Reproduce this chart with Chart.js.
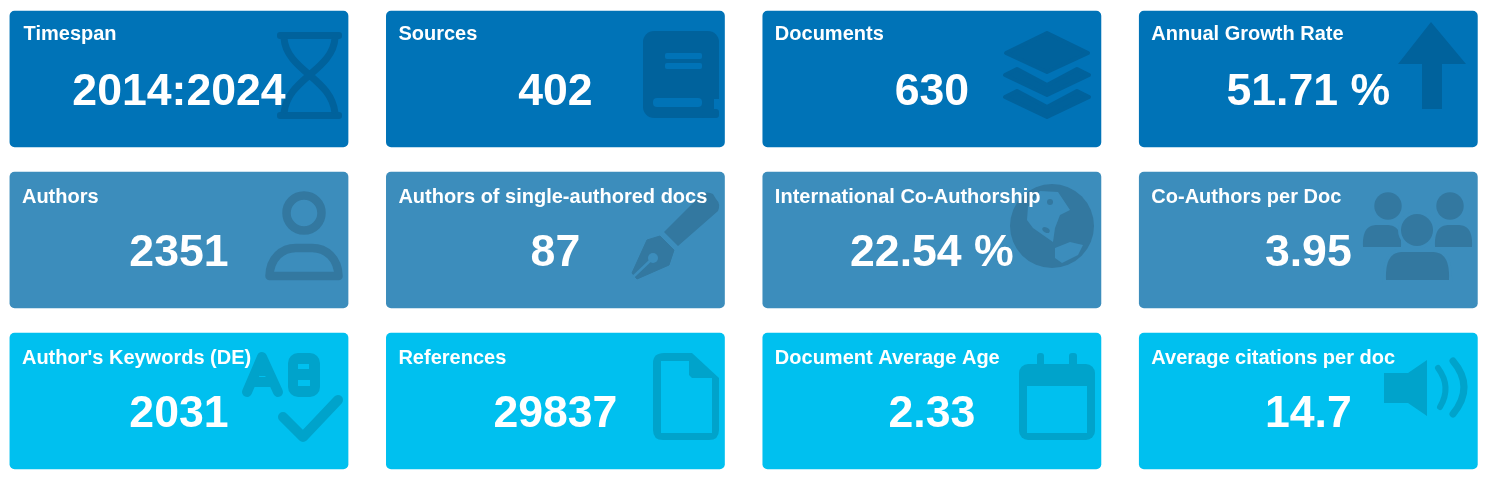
<!DOCTYPE html>
<html>
<head>
<meta charset="utf-8">
<style>html,body{margin:0;padding:0;background:#fff;overflow:hidden}canvas{display:block}</style>
<script src="https://cdn.jsdelivr.net/npm/chart.js@4"></script>
</head>
<body>
<canvas id="c" width="1486" height="482"></canvas>
<script>
const rows = [0, 1, 2];
const columns = [0, 1, 2, 3];
const titles = [
  ["Timespan", "Sources", "Documents", "Annual Growth Rate"],
  ["Authors", "Authors of single-authored docs", "International Co-Authorship", "Co-Authors per Doc"],
  ["Author's Keywords (DE)", "References", "Document Average Age", "Average citations per doc"]
];
const values = [
  ["2014:2024", "402", "630", "51.71 %"],
  ["2351", "87", "22.54 %", "3.95"],
  ["2031", "29837", "2.33", "14.7"]
];
const icons = [
  ["hourglass", "book", "layers", "arrow"],
  ["person", "pen", "globe", "people"],
  ["keywords", "file", "calendar", "speaker"]
];
const rowColors = ["#0073b7", "#3c8dbc", "#00c0ef"];
const iconColors = ["#00629c", "#3378a0", "#00a3cb"];

function poly(ctx, pts) {
  ctx.beginPath();
  pts.forEach((p, i) => i ? ctx.lineTo(p[0], p[1]) : ctx.moveTo(p[0], p[1]));
  ctx.closePath();
}
function rr(ctx, x, y, w, h, r) { ctx.beginPath(); ctx.roundRect(x, y, w, h, r); }
function dome(ctx, x0, x1, top, bottom, r) {
  ctx.beginPath();
  ctx.moveTo(x0, bottom);
  ctx.bezierCurveTo(x0 - 1, top + r * 0.2, x0 + r * 0.5, top, x0 + r, top);
  ctx.lineTo(x1 - r, top);
  ctx.bezierCurveTo(x1 - r * 0.5, top, x1 + 1, top + r * 0.2, x1, bottom);
  ctx.closePath();
}
const draw = {
  hourglass(ctx, ink) {
    rr(ctx, 267, 21, 65, 7, 3); ctx.fill();
    rr(ctx, 267, 101, 65, 7, 3); ctx.fill();
    ctx.lineWidth = 7;
    ctx.beginPath();
    ctx.moveTo(274, 27); ctx.bezierCurveTo(275, 44, 289, 55, 299.5, 64);
    ctx.bezierCurveTo(311, 74, 323, 84, 325, 102);
    ctx.moveTo(325, 27); ctx.bezierCurveTo(324, 44, 310, 55, 299.5, 64);
    ctx.bezierCurveTo(288, 74, 276, 84, 274, 102);
    ctx.stroke();
  },
  book(ctx, ink, bg) {
    rr(ctx, 257, 20, 76, 87, 11); ctx.fill();
    ctx.fillStyle = bg;
    ctx.fillRect(328, 88, 6, 20);
    rr(ctx, 267, 87, 49, 9, 4); ctx.fill();
    rr(ctx, 279, 42, 37, 6, 2); ctx.fill();
    rr(ctx, 279, 52, 37, 6, 2); ctx.fill();
    ctx.fillStyle = ink;
    rr(ctx, 316, 98, 17, 9, 3); ctx.fill();
  },
  layers(ctx) {
    ctx.lineWidth = 4; ctx.lineJoin = "round";
    poly(ctx, [[244, 42], [285, 22], [326, 42], [285, 61]]);
    ctx.fill(); ctx.stroke();
    poly(ctx, [[243, 64], [255, 58], [285, 74], [315, 58], [327, 64], [285, 84]]);
    ctx.fill(); ctx.stroke();
    poly(ctx, [[243, 86], [255, 80], [285, 96], [315, 80], [327, 86], [285, 106]]);
    ctx.fill(); ctx.stroke();
  },
  arrow(ctx) {
    poly(ctx, [[292, 11], [327, 53], [303, 53], [303, 98], [283, 98], [283, 53], [259, 53]]);
    ctx.fill();
  },
  person(ctx) {
    ctx.lineWidth = 8.5; ctx.lineJoin = "round";
    ctx.beginPath(); ctx.arc(294, 41, 17.5, 0, Math.PI * 2); ctx.stroke();
    ctx.beginPath();
    ctx.moveTo(259.5, 104);
    ctx.bezierCurveTo(260, 86, 272, 76, 286, 76);
    ctx.lineTo(302, 76);
    ctx.bezierCurveTo(316, 76, 328, 86, 328.5, 104);
    ctx.closePath(); ctx.stroke();
  },
  pen(ctx, ink, bg) {
    ctx.beginPath();
    ctx.moveTo(278, 60); ctx.lineTo(314, 24);
    ctx.quadraticCurveTo(320, 18, 327, 22);
    ctx.lineTo(330, 27);
    ctx.quadraticCurveTo(335, 32, 332, 39);
    ctx.lineTo(292, 74);
    ctx.closePath(); ctx.fill();
    ctx.lineJoin = "round"; ctx.lineWidth = 1;
    poly(ctx, [[274, 64], [261, 68], [246, 101], [251, 107], [283, 93], [288, 78]]);
    ctx.fill(); ctx.stroke();
    ctx.strokeStyle = bg; ctx.fillStyle = bg; ctx.lineWidth = 2.5;
    ctx.beginPath(); ctx.moveTo(247, 105); ctx.lineTo(267, 86); ctx.stroke();
    ctx.beginPath(); ctx.arc(267, 86, 5, 0, Math.PI * 2); ctx.fill();
  },
  globe(ctx, ink, bg) {
    ctx.beginPath(); ctx.arc(290, 54, 42, 0, Math.PI * 2); ctx.fill();
    ctx.fillStyle = bg;
    poly(ctx, [[278, 19], [296, 20], [308, 38], [298, 43], [293, 56], [291, 70], [281, 63], [271, 56], [265, 48], [266, 35]]);
    ctx.fill();
    poly(ctx, [[293, 76], [308, 70], [321, 73], [316, 83], [300, 91], [293, 86]]);
    ctx.fill();
    ctx.fillStyle = ink;
    ctx.beginPath(); ctx.arc(288, 30, 3, 0, Math.PI * 2); ctx.fill();
    ctx.beginPath(); ctx.ellipse(284, 58, 4, 2.5, 0.5, 0, Math.PI * 2); ctx.fill();
  },
  people(ctx, ink, bg) {
    ctx.beginPath(); ctx.arc(249, 34, 13.7, 0, Math.PI * 2); ctx.fill();
    ctx.beginPath(); ctx.arc(311, 34, 13.7, 0, Math.PI * 2); ctx.fill();
    dome(ctx, 224, 262, 53, 75, 14); ctx.fill();
    dome(ctx, 296, 333, 53, 75, 14); ctx.fill();
    ctx.fillStyle = bg;
    ctx.beginPath(); ctx.arc(278, 58, 19, 0, Math.PI * 2); ctx.fill();
    dome(ctx, 244, 313, 77, 112, 18); ctx.fill();
    ctx.fillStyle = ink;
    ctx.beginPath(); ctx.arc(278, 58, 16, 0, Math.PI * 2); ctx.fill();
    dome(ctx, 247, 310, 80, 108, 17); ctx.fill();
  },
  keywords(ctx, ink, bg) {
    ctx.lineCap = "round"; ctx.lineJoin = "round"; ctx.lineWidth = 10;
    ctx.beginPath();
    ctx.moveTo(237, 59); ctx.lineTo(252, 24); ctx.lineTo(268, 59);
    ctx.moveTo(242, 49); ctx.lineTo(263, 49);
    ctx.stroke();
    poly(ctx, [[251, 36], [254, 36], [256, 43], [249, 43]]);
    ctx.fill();
    rr(ctx, 278, 20, 32, 44, 10); ctx.fill();
    ctx.fillStyle = bg;
    ctx.fillRect(288, 31, 11, 5);
    ctx.fillRect(288, 47, 12, 6);
    ctx.lineWidth = 10;
    ctx.beginPath();
    ctx.moveTo(273, 84); ctx.lineTo(293, 104); ctx.lineTo(328, 67);
    ctx.stroke();
  },
  file(ctx, ink, bg) {
    ctx.beginPath();
    ctx.moveTo(278, 20); ctx.lineTo(306, 20); ctx.lineTo(333, 45); ctx.lineTo(333, 97);
    ctx.quadraticCurveTo(333, 107, 323, 107);
    ctx.lineTo(277, 107); ctx.quadraticCurveTo(267, 107, 267, 97);
    ctx.lineTo(267, 30); ctx.quadraticCurveTo(267, 20, 278, 20);
    ctx.closePath(); ctx.fill();
    ctx.fillStyle = bg;
    poly(ctx, [[275, 28], [303, 28], [303, 42], [306, 45], [326, 45], [326, 100], [275, 100]]);
    ctx.fill();
  },
  calendar(ctx, ink, bg) {
    rr(ctx, 275, 20, 7, 16, 3); ctx.fill();
    rr(ctx, 307, 20, 8, 16, 3); ctx.fill();
    rr(ctx, 257, 31, 76, 76, 9); ctx.fill();
    ctx.fillStyle = bg;
    ctx.fillRect(265, 53, 60, 47);
  },
  speaker(ctx) {
    poly(ctx, [[245, 40], [269, 40], [288, 27], [288, 83], [269, 70], [245, 70]]);
    ctx.fill();
    ctx.lineCap = "round";
    ctx.lineWidth = 6;
    ctx.beginPath(); ctx.moveTo(299, 35); ctx.quadraticCurveTo(313, 54, 301, 74); ctx.stroke();
    ctx.lineWidth = 7;
    ctx.beginPath(); ctx.moveTo(314, 28); ctx.quadraticCurveTo(336, 54, 314, 81); ctx.stroke();
  }
};

const cardPlugin = {
  id: "cardPlugin",
  afterDatasetsDraw(chart) {
    const ctx = chart.ctx;
    rows.forEach(r => {
      chart.getDatasetMeta(r).data.forEach((bar, c) => {
        const p = bar.getProps(["x", "y", "base", "width"], true);
        const left = p.x - p.width / 2;
        const top = Math.min(p.y, p.base);
        ctx.save();
        ctx.translate(Math.round(left), Math.round(top));
        ctx.fillStyle = iconColors[r];
        ctx.strokeStyle = iconColors[r];
        draw[icons[r][c]](ctx, iconColors[r], rowColors[r]);
        ctx.restore();
        ctx.save();
        ctx.fillStyle = "#ffffff";
        ctx.textBaseline = "alphabetic";
        ctx.textAlign = "left";
        ctx.font = "bold 20px 'Liberation Sans', Arial, sans-serif";
        const inset = (r === 0 && c === 0) ? 14 : 12.4;
        ctx.fillText(titles[r][c], left + inset, top + (r === 0 ? 29.5 : 31));
        ctx.textAlign = "center";
        ctx.font = "bold 44.6px 'Liberation Sans', Arial, sans-serif";
        ctx.fillText(values[r][c], p.x, top + 94.5);
        ctx.restore();
      });
    });
  }
};

new Chart(document.getElementById("c"), {
  type: "bar",
  data: {
    datasets: rows.map(r => ({
      label: "Row " + (r + 1),
      data: columns.map(c => ({ x: c, y: [r - 0.424, r + 0.424] })),
      backgroundColor: rowColors[r],
      borderRadius: 5,
      borderSkipped: false,
      grouped: false,
      categoryPercentage: 1,
      barPercentage: 0.9
    }))
  },
  options: {
    responsive: false,
    animation: false,
    devicePixelRatio: 1,
    events: [],
    layout: { padding: 0 },
    plugins: { legend: { display: false }, tooltip: { enabled: false } },
    scales: {
      x: { type: "linear", display: false, offset: false, min: -0.4754, max: 3.472, ticks: { stepSize: 1, includeBounds: false }, grid: { offset: false } },
      y: { type: "linear", display: false, reverse: true, min: -0.4907, max: 2.503 }
    }
  },
  plugins: [cardPlugin]
});
</script>
</body>
</html>
